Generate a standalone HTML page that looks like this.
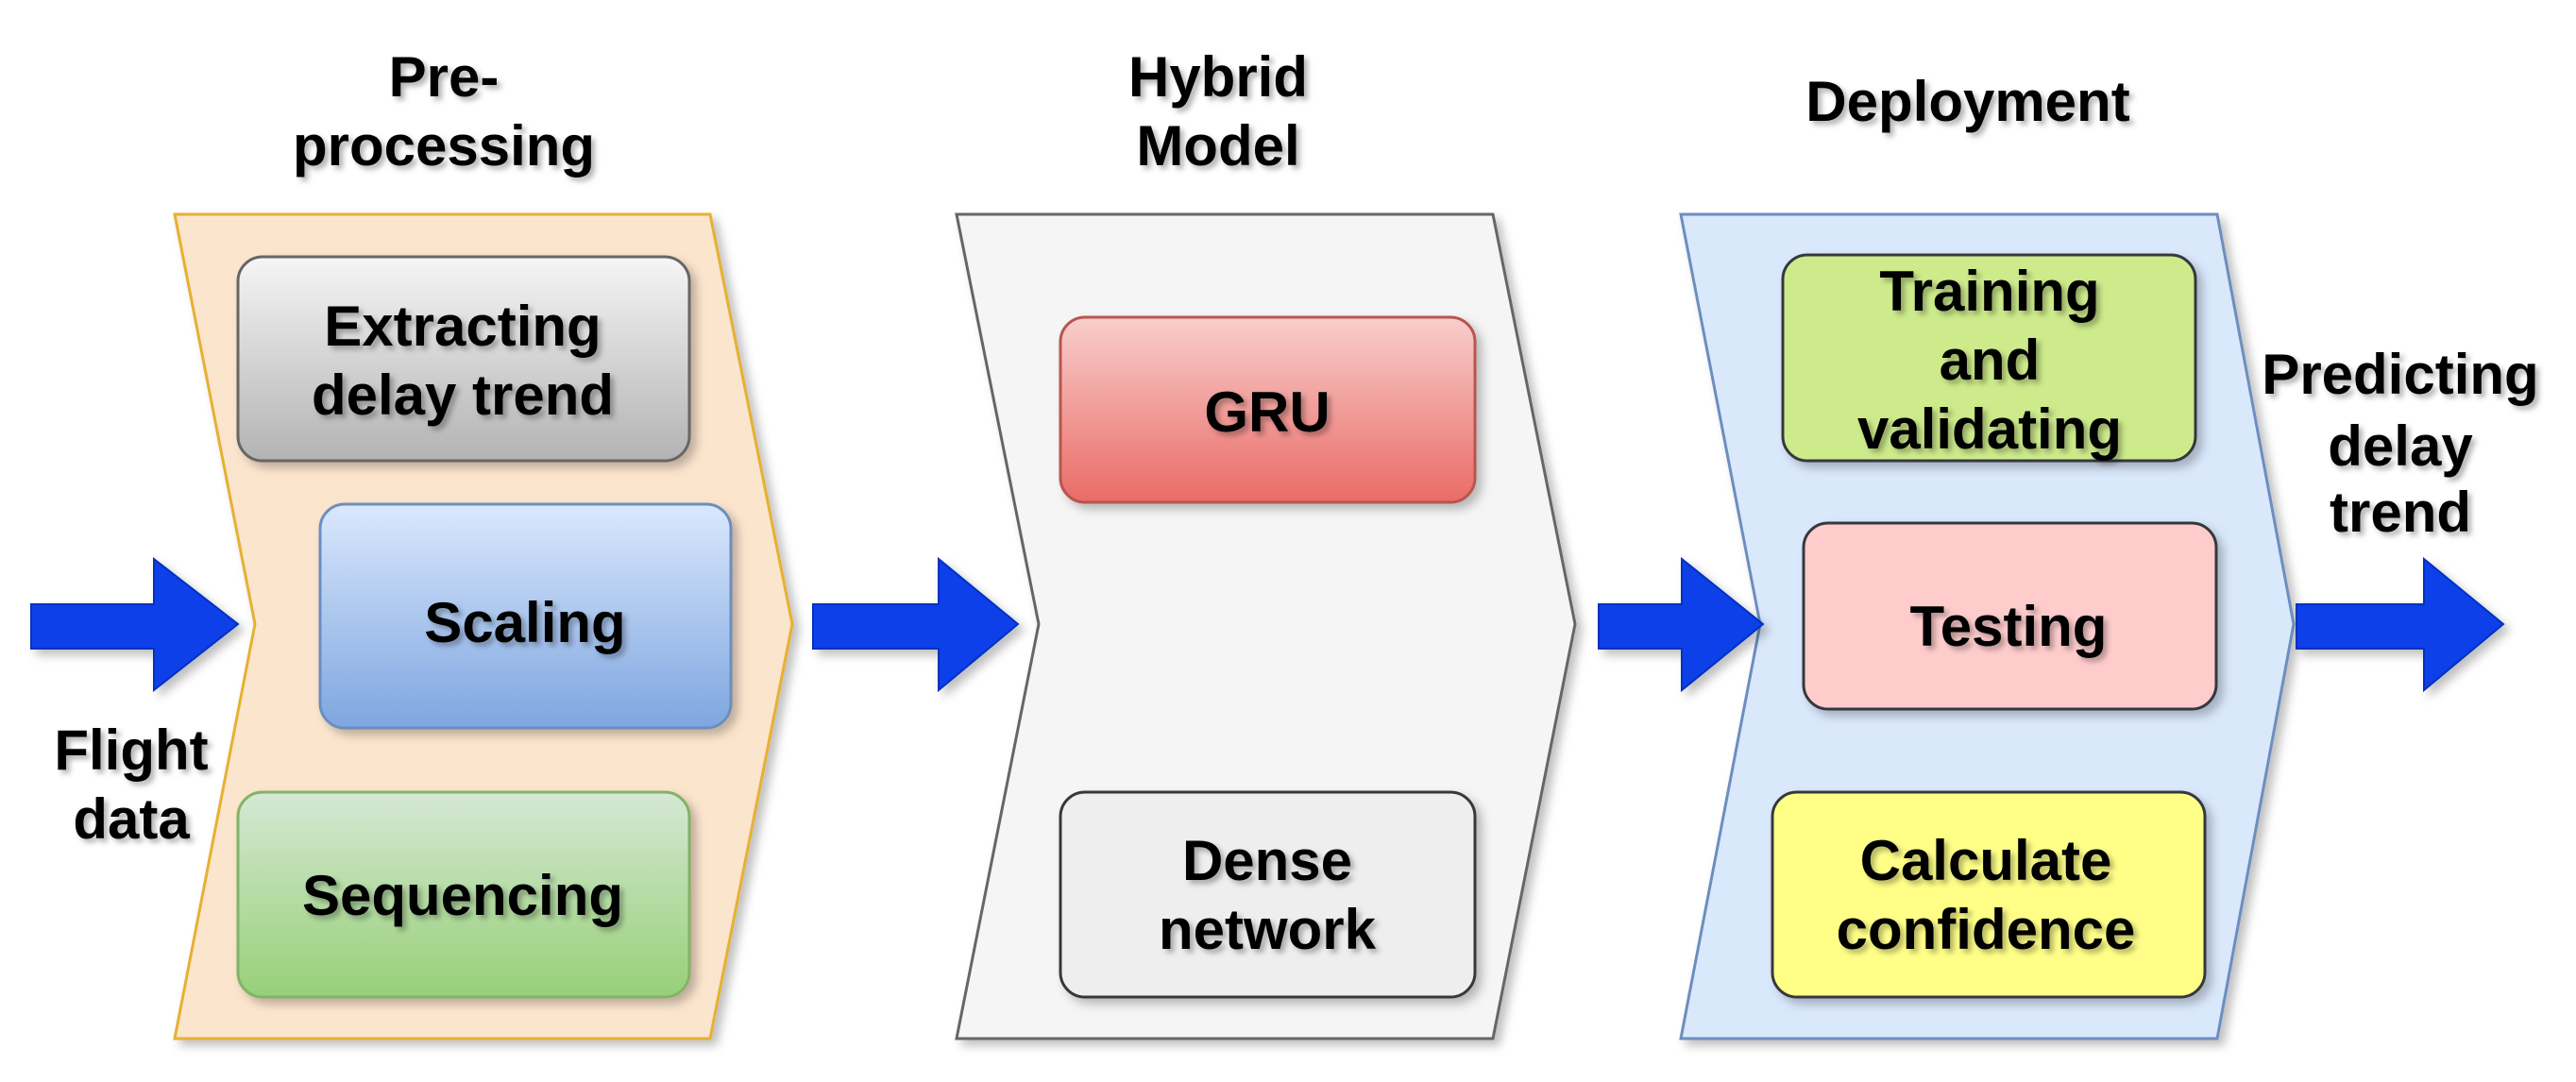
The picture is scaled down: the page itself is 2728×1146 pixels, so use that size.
<!DOCTYPE html>
<html><head><meta charset="utf-8"><style>
html,body{margin:0;padding:0;background:#fff;}
svg{display:block;}
text{font-family:"Liberation Sans",Arial,sans-serif;font-weight:bold;font-size:60px;fill:#000;text-anchor:middle;}
</style></head><body>
<svg width="2728" height="1146" viewBox="0 0 2728 1146" xmlns="http://www.w3.org/2000/svg">
<defs>
<filter id="sh" x="-10%" y="-10%" width="130%" height="130%"><feDropShadow dx="6" dy="6" stdDeviation="5" flood-color="#000" flood-opacity="0.25"/></filter>
<filter id="ts" x="-10%" y="-30%" width="130%" height="160%"><feDropShadow dx="4" dy="4" stdDeviation="3" flood-color="#000" flood-opacity="0.3"/></filter>
<linearGradient id="gGray" x1="0" y1="0" x2="0" y2="1"><stop offset="0" stop-color="#f5f5f5"/><stop offset="1" stop-color="#b3b3b3"/></linearGradient>
<linearGradient id="gBlue" x1="0" y1="0" x2="0" y2="1"><stop offset="0" stop-color="#dae8fc"/><stop offset="1" stop-color="#7ea6e0"/></linearGradient>
<linearGradient id="gGreen" x1="0" y1="0" x2="0" y2="1"><stop offset="0" stop-color="#d5e8d4"/><stop offset="1" stop-color="#97d077"/></linearGradient>
<linearGradient id="gRed" x1="0" y1="0" x2="0" y2="1"><stop offset="0" stop-color="#f8cecc"/><stop offset="1" stop-color="#ea6b66"/></linearGradient>
</defs>

<!-- chevrons -->
<polygon points="185,227 752,227 839,661 752,1100 185,1100 270,661" fill="#fce5cd" stroke="#e6b030" stroke-width="3" filter="url(#sh)"/>
<polygon points="1013,227 1581,227 1668,661 1581,1100 1013,1100 1100,661" fill="#f5f5f5" stroke="#666" stroke-width="3" filter="url(#sh)"/>
<polygon points="1780,227 2348,227 2429,661 2348,1100 1780,1100 1864,661" fill="#dae8fc" stroke="#6c8ebf" stroke-width="3" filter="url(#sh)"/>

<!-- boxes -->
<rect x="252" y="272" width="478" height="216" rx="26" fill="url(#gGray)" stroke="#666" stroke-width="3" filter="url(#sh)"/>
<rect x="339" y="534" width="435" height="237" rx="26" fill="url(#gBlue)" stroke="#6c8ebf" stroke-width="3" filter="url(#sh)"/>
<rect x="252" y="839" width="478" height="217" rx="26" fill="url(#gGreen)" stroke="#82b366" stroke-width="3" filter="url(#sh)"/>
<rect x="1123" y="336" width="439" height="196" rx="26" fill="url(#gRed)" stroke="#b85450" stroke-width="3" filter="url(#sh)"/>
<rect x="1123" y="839" width="439" height="217" rx="26" fill="#eeeeee" stroke="#36393d" stroke-width="3" filter="url(#sh)"/>
<rect x="1888" y="270" width="437" height="218" rx="26" fill="#cdeb8b" stroke="#36393d" stroke-width="3" filter="url(#sh)"/>
<rect x="1910" y="554" width="437" height="197" rx="26" fill="#ffcccc" stroke="#36393d" stroke-width="3" filter="url(#sh)"/>
<rect x="1877" y="839" width="458" height="217" rx="26" fill="#ffff88" stroke="#36393d" stroke-width="3" filter="url(#sh)"/>

<!-- arrows -->
<g fill="#0a3fe8" stroke="#0030c0" stroke-width="2" filter="url(#sh)">
<polygon points="33,640 163,640 163,592 252,661 163,731 163,687 33,687"/>
<polygon points="861,640 994,640 994,592 1078,661 994,731 994,687 861,687"/>
<polygon points="1693,640 1781,640 1781,592 1867,661 1781,731 1781,687 1693,687"/>
<polygon points="2432,640 2567,640 2567,592 2651,661 2567,731 2567,687 2432,687"/>
</g>

<g filter="url(#ts)">
<text x="470" y="102">Pre-</text>
<text x="470" y="175">processing</text>
<text x="1290" y="102">Hybrid</text>
<text x="1290" y="175">Model</text>
<text x="2084" y="128">Deployment</text>

<text x="490" y="366">Extracting</text>
<text x="490" y="439">delay trend</text>
<text x="556" y="680">Scaling</text>
<text x="490" y="969">Sequencing</text>

<text x="1342" y="457">GRU</text>
<text x="1342" y="932">Dense</text>
<text x="1342" y="1005">network</text>

<text x="2107" y="329">Training</text>
<text x="2107" y="402">and</text>
<text x="2107" y="475">validating</text>
<text x="2127" y="684">Testing</text>
<text x="2103" y="932">Calculate</text>
<text x="2103" y="1005">confidence</text>

<text x="139" y="815">Flight</text>
<text x="139" y="888">data</text>

<text x="2542" y="417">Predicting</text>
<text x="2542" y="493">delay</text>
<text x="2542" y="563">trend</text>
</g>
</svg>
</body></html>
